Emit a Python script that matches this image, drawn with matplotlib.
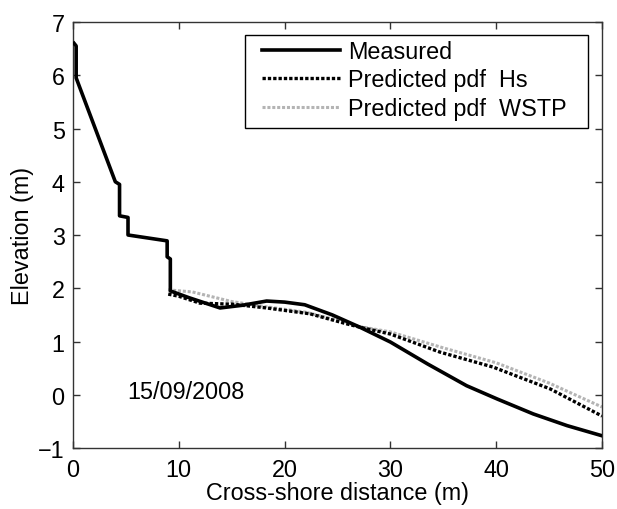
import matplotlib
matplotlib.use("Agg")
import matplotlib.pyplot as plt
from matplotlib.patches import Rectangle

plt.rcParams['font.family'] = ['Liberation Sans', 'DejaVu Sans']

# measured profile
meas_x = [0.1, 0.3, 0.3, 4.0, 4.4, 4.4, 5.2, 5.2, 8.9, 8.9, 9.2, 9.2, 11.0, 13.9, 16.0,
          18.3, 20.0, 21.9, 24.5, 27.1, 30.0, 33.5, 37.2, 40.1, 43.5, 46.7, 50.0]
meas_y = [6.6, 6.55, 5.95, 4.0, 3.95, 3.36, 3.33, 3.0, 2.89, 2.59, 2.55, 1.95, 1.82, 1.63, 1.68,
          1.76, 1.74, 1.69, 1.50, 1.27, 0.99, 0.58, 0.17, -0.08, -0.36, -0.58, -0.77]

# predicted pdf Hs
hs_x = [9.0, 10.0, 12.0, 15.1, 18.3, 22.4, 25.9, 27.1, 30.0, 34.7, 39.7, 45.1, 50.0]
hs_y = [1.89, 1.85, 1.72, 1.70, 1.63, 1.52, 1.33, 1.27, 1.14, 0.80, 0.52, 0.11, -0.40]

# predicted pdf WSTP
wstp_x = [9.0, 11.3, 15.0, 18.0, 22.0, 25.0, 27.1, 30.0, 35.0, 40.0, 45.0, 50.0]
wstp_y = [1.97, 1.93, 1.75, 1.66, 1.55, 1.40, 1.28, 1.18, 0.88, 0.60, 0.22, -0.23]

fs = 16.8

fig = plt.figure(figsize=(6.17, 5.10), dpi=100)
ax = fig.add_axes([0.1183, 0.1196, 0.8574, 0.8353])

ax.plot(wstp_x, wstp_y, color='#b4b4b4', lw=2.2, linestyle=(0, (1, 0.6)),
        label='Predicted pdf  WSTP', zorder=2)
ax.plot(hs_x, hs_y, color='black', lw=2.4, linestyle=(0, (1, 0.6)),
        label='Predicted pdf  Hs', zorder=3)
ax.plot(meas_x, meas_y, color='black', lw=2.6, label='Measured', zorder=4)

ax.set_xlim(0, 50)
ax.set_ylim(-1, 7)
ax.set_xticks([0, 10, 20, 30, 40, 50])
ax.set_yticks(range(-1, 8))
ax.set_yticklabels(['\u22121', '0', '1', '2', '3', '4', '5', '6', '7'])
ax.tick_params(direction='in', length=5, width=1, top=True, right=True,
               labelsize=fs, color='#333333')
ax.tick_params(axis='x', pad=7)
ax.tick_params(axis='y', pad=6)
for s in ax.spines.values():
    s.set_color('#333333')
    s.set_linewidth(1)

ax.set_xlabel('Cross-shore distance (m)', fontsize=fs, labelpad=0)
ax.set_ylabel('Elevation (m)', fontsize=fs, labelpad=3)

ax.text(5.1, 0.07, '15/09/2008', fontsize=fs, va='center', ha='left')

# legend box drawn separately, entries placed inside it
ax.add_patch(Rectangle((0.325, 0.751), 0.6485, 0.2185, transform=ax.transAxes,
                       facecolor='white', edgecolor='black', lw=1, zorder=5))
h, l = ax.get_legend_handles_labels()
leg = ax.legend(h[::-1], l[::-1], loc='upper left', bbox_to_anchor=(0.357, 0.958),
                borderaxespad=0, borderpad=0, fontsize=fs, frameon=False,
                handlelength=3.35, handletextpad=0.35, labelspacing=0.24)
leg.set_zorder(6)

fig.savefig('out.png', dpi=100)
